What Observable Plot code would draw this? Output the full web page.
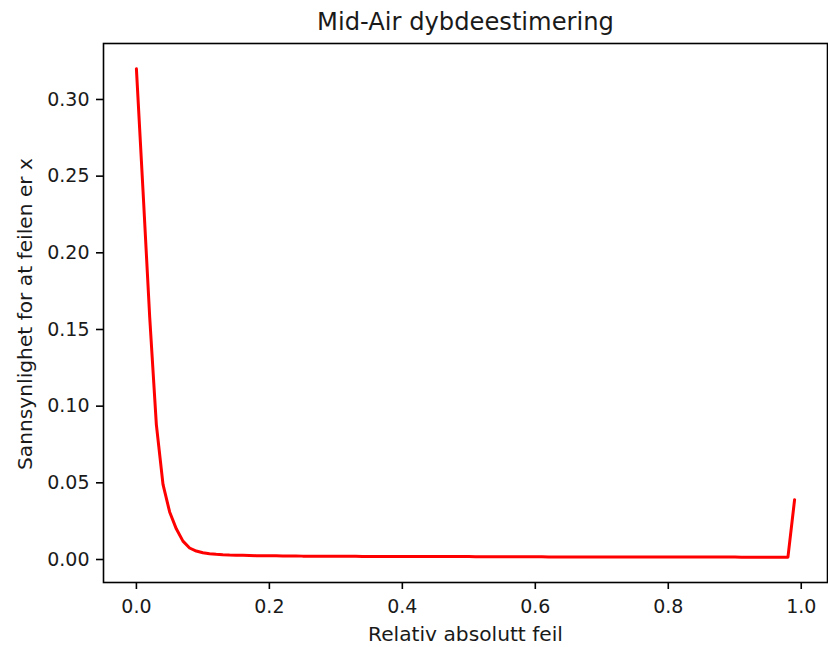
<!DOCTYPE html>
<html><head><meta charset="utf-8">
<script src="https://cdn.jsdelivr.net/npm/d3@7"></script>
<script src="https://cdn.jsdelivr.net/npm/@observablehq/plot@0.6"></script>
<style>html,body{margin:0;padding:0;background:#fff;} svg{display:block}</style>
</head><body><div id="chart"></div>
<script>
const titleText = "Mid-Air dybdeestimering";
const xLabel = "Relativ absolutt feil";
const yLabel = "Sannsynlighet for at feilen er x";

const relErr = [
  0.00,0.01,0.02,0.03,0.04,0.05,0.06,0.07,0.08,0.09,
  0.10,0.11,0.12,0.13,0.14,0.15,0.16,0.17,0.18,0.19,
  0.20,0.21,0.22,0.23,0.24,0.25,0.26,0.27,0.28,0.29,
  0.30,0.31,0.32,0.33,0.34,0.35,0.36,0.37,0.38,0.39,
  0.40,0.41,0.42,0.43,0.44,0.45,0.46,0.47,0.48,0.49,
  0.50,0.51,0.52,0.53,0.54,0.55,0.56,0.57,0.58,0.59,
  0.60,0.61,0.62,0.63,0.64,0.65,0.66,0.67,0.68,0.69,
  0.70,0.71,0.72,0.73,0.74,0.75,0.76,0.77,0.78,0.79,
  0.80,0.81,0.82,0.83,0.84,0.85,0.86,0.87,0.88,0.89,
  0.90,0.91,0.92,0.93,0.94,0.95,0.96,0.97,0.98,0.99
];
const prob = [
  0.320,0.240,0.158,0.088,0.049,0.031,0.020,0.012,0.0075,0.0055,
  0.0044,0.0038,0.0034,0.0031,0.0029,0.0028,0.0027,0.0026,0.0025,0.0025,
  0.0024,0.0024,0.0023,0.0023,0.0023,0.0022,0.0022,0.0022,0.0022,0.0021,
  0.0021,0.0021,0.0021,0.0021,0.0020,0.0020,0.0020,0.0020,0.0020,0.0020,
  0.0020,0.0020,0.0019,0.0019,0.0019,0.0019,0.0019,0.0019,0.0019,0.0019,
  0.0019,0.0018,0.0018,0.0018,0.0018,0.0018,0.0018,0.0018,0.0018,0.0018,
  0.0018,0.0018,0.0017,0.0017,0.0017,0.0017,0.0017,0.0017,0.0017,0.0017,
  0.0017,0.0017,0.0017,0.0017,0.0017,0.0016,0.0016,0.0016,0.0016,0.0016,
  0.0016,0.0016,0.0016,0.0016,0.0016,0.0016,0.0016,0.0016,0.0016,0.0016,
  0.0016,0.0015,0.0015,0.0015,0.0015,0.0015,0.0015,0.0015,0.0015,0.039
];
const xTicks = [0.0, 0.2, 0.4, 0.6, 0.8, 1.0];
const yTicks = [0.00, 0.05, 0.10, 0.15, 0.20, 0.25, 0.30];

const data = relErr.map((x, i) => ({x, p: prob[i]}));

const chart = Plot.plot({
  width: 828,
  height: 647,
  marginLeft: 103,
  marginRight: 1,
  marginTop: 43,
  marginBottom: 65,
  style: {fontFamily: "DejaVu Sans", fontSize: "19px", color: "#000", background: "#fff", overflow: "visible"},
  x: {domain: [-0.0495, 1.0395]},
  y: {domain: [-0.015, 0.3365]},
  marks: [
    Plot.line(data, {x: "x", y: "p", stroke: "#ff0000", strokeWidth: 3, curve: "linear"}),
    Plot.frame({stroke: "#000", strokeWidth: 1.6}),
    Plot.axisX({ticks: xTicks, tickFormat: d3.format(".1f"), tickSize: 7, tickPadding: 10, strokeWidth: 1.6, fontSize: 19, label: null, fill: "#1a1a1a"}),
    Plot.axisY({ticks: yTicks, tickFormat: d3.format(".2f"), tickSize: 7, tickPadding: 7, strokeWidth: 1.6, fontSize: 19, label: null, fill: "#1a1a1a"}),
    Plot.text([titleText], {text: d => d, frameAnchor: "top", textAnchor: "middle", lineAnchor: "bottom", dy: -13.5, fontSize: 24.2, fill: "#1a1a1a"}),
    Plot.text([xLabel], {text: d => d, frameAnchor: "bottom", textAnchor: "middle", lineAnchor: "bottom", dy: 58, fontSize: 20.2, fill: "#1a1a1a"}),
    Plot.text([yLabel], {text: d => d, frameAnchor: "left", textAnchor: "middle", lineAnchor: "bottom", rotate: -90, dx: -71.3, dy: 1, fontSize: 20.2, fill: "#1a1a1a"})
  ]
});
document.getElementById("chart").appendChild(chart);
</script>
</body></html>
